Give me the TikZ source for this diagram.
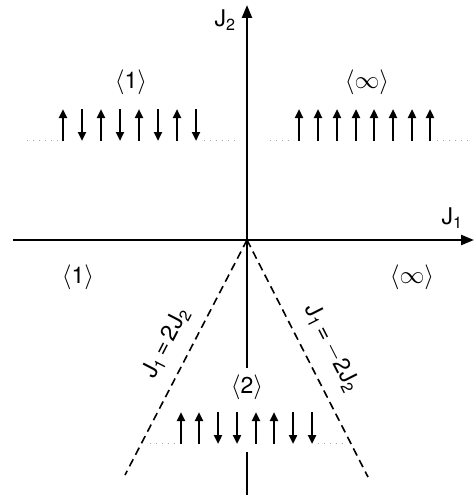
\documentclass[tikz,border=0pt]{standalone}
\usepackage{fontspec}
\setmainfont{TeX Gyre Heros}
\usetikzlibrary{arrows.meta}
\begin{document}
\begin{tikzpicture}[x=1pt,y=-1pt,
  axis/.style={line width=2.4pt,-{Triangle[length=13pt,width=10pt]}},
  axisplain/.style={line width=2.4pt},
  spin/.style={line width=2.8pt,-{Triangle[length=9pt,width=8pt]}},
  dots/.style={line width=1pt,gray!70,dash pattern=on 1pt off 5pt},
  phase/.style={line width=1.6pt,dash pattern=on 8pt off 5pt},
  lab/.style={font=\fontsize{23}{27}\selectfont,inner sep=1pt}]
\useasboundingbox (0,0) rectangle (474,495);
% coordinates
\coordinate (O) at (247,240);
\coordinate (xl) at (13,240);
\coordinate (xr) at (474,240);
\coordinate (yt) at (247,5);
\coordinate (yb1) at (247,368);
\coordinate (yb2) at (247,452);
\coordinate (yb3) at (247,495);
\coordinate (dl) at (125,475);
\coordinate (dr) at (368,477);
% axes
\draw[axis] (xl) -- (xr);
\draw[axis] (O) -- (yt);
\draw[axisplain] (O) -- (yb1);
\draw[axisplain] (yb2) -- (yb3);
% phase boundaries
\draw[phase] (O) -- (dl);
\draw[phase] (O) -- (dr);
% axis labels
\node[lab] (J2) at (225,20) {J\textsubscript{2}};
\node[lab] (J1) at (452,218) {J\textsubscript{1}};
% region labels
\node[lab] (t1) at (131,82) {$\langle$1$\rangle$};
\node[lab] (tinf) at (367,82) {$\langle\infty\rangle$};
\node[lab] (b1) at (78,277) {$\langle$1$\rangle$};
\node[lab] (binf) at (412,277) {$\langle\infty\rangle$};
\node[lab] (b2) at (247,387) {$\langle$2$\rangle$};
\node[lab,rotate=62.6] (eqL) at (166,343) {J\textsubscript{1}\,=\,2J\textsubscript{2}};
\node[lab,rotate=-63] (eqR) at (332,348) {J\textsubscript{1}\,=\,$-$2J\textsubscript{2}};
% spins top-left
\foreach \x/\d in {63/u,82/d,101/u,120/d,139/u,158/d,177/u,196/d}{
  \if u\d \draw[spin] (\x,141) -- (\x,109); \else \draw[spin] (\x,109) -- (\x,141); \fi
}
\draw[dots] (27,140) -- (58,140);
\draw[dots] (204,140) -- (235,140);
% spins top-right
\foreach \x in {299,318,337,356,374,393,412,430}{
  \draw[spin] (\x,141) -- (\x,109);
}
\draw[dots] (270,140) -- (294,140);
\draw[dots] (437,140) -- (470,140);
% spins bottom
\foreach \x/\d in {181/u,199/u,218/d,237/d,256/u,274/u,293/d,312/d}{
  \if u\d \draw[spin] (\x,444) -- (\x,412); \else \draw[spin] (\x,412) -- (\x,444); \fi
}
\draw[dots] (150,443) -- (176,443);
\draw[dots] (318,443) -- (345,443);
\end{tikzpicture}
\end{document}
